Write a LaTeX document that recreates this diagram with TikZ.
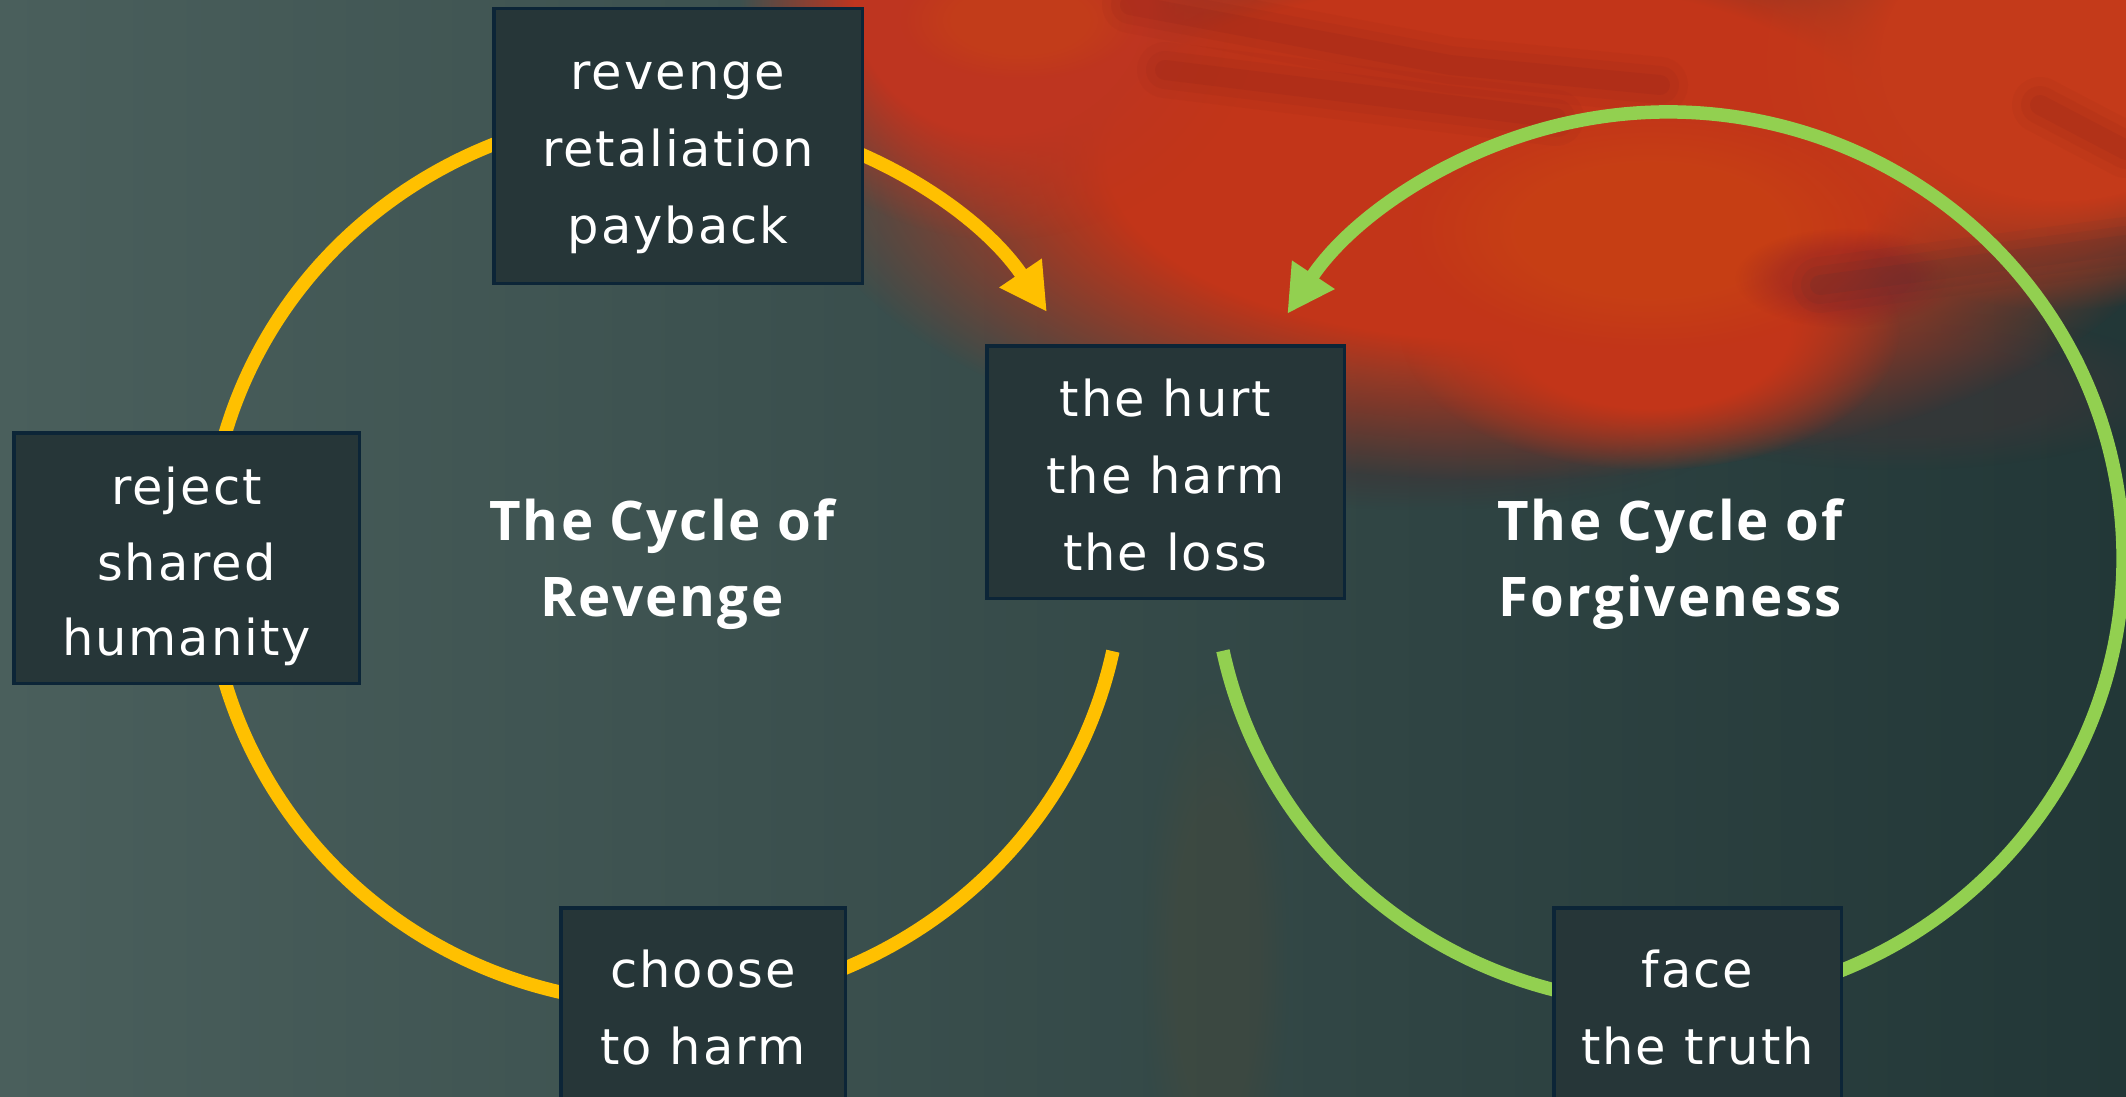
\documentclass[tikz,border=0pt]{standalone}
\usepackage{fontspec}
\setmainfont{DejaVu Sans}
\newfontfamily\boxfont{DejaVu Sans}[LetterSpace=4.0]
\newfontfamily\titlefont{Open Sans}[LetterSpace=4.0]
\usetikzlibrary{arrows.meta,fadings}
\pgfdeclareradialshading{blobshade}{\pgfpointorigin}{color(0bp)=(pgftransparent!0); color(14bp)=(pgftransparent!0); color(25bp)=(pgftransparent!100); color(50bp)=(pgftransparent!100)}
\pgfdeclarefading{blobfade}{\pgfuseshading{blobshade}}
\definecolor{bgL}{HTML}{4A5F5C}
\definecolor{bgM}{HTML}{30443F}
\definecolor{bgR}{HTML}{223737}
\definecolor{redA}{HTML}{C23519}
\definecolor{redB}{HTML}{C43A1A}
\definecolor{redC}{HTML}{BE3520}
\definecolor{orangeD}{HTML}{CC4A10}
\definecolor{darkred}{HTML}{7A1C18}
\definecolor{crimson}{HTML}{7E1A2C}
\definecolor{bandc}{HTML}{3E3537}
\definecolor{brownE}{HTML}{5A4A30}
\definecolor{gold}{HTML}{FFC000}
\definecolor{lgreen}{HTML}{92D050}
\definecolor{boxfill}{HTML}{263638}
\definecolor{boxline}{HTML}{0C2537}
\tikzset{
  blob/.style={fill=#1, path fading=blobfade},
  streak/.style={draw=#1, line cap=round, line join=round},
  cbox/.style={draw=boxline, line width=3.5pt, fill=boxfill, inner sep=0pt},
  boxtxt/.style={text=white, font=\boxfont\fontsize{49.5}{60}\selectfont, inner sep=0pt, anchor=base},
  titletxt/.style={text=white, font=\titlefont\bfseries\fontsize{54.6}{66}\selectfont, inner sep=0pt, anchor=base},
  yarc/.style={draw=gold, line width=13.5pt},
  garc/.style={draw=lgreen, line width=13.5pt},
  tipc/.style={-{Triangle[width=48pt,length=47pt]}}
}
\begin{document}
\begin{tikzpicture}[x=1pt,y=-1pt]
\useasboundingbox (0,0) rectangle (2126,1097);
\clip (0,0) rectangle (2126,1097);
% background
\shade[left color=bgL, middle color=bgM, right color=bgR] (0,0) rectangle (2126,1097);
\fill[blob=brownE, fill opacity=0.22] (1215,960) ellipse [x radius=75, y radius=280];
\fill[blob=bandc, fill opacity=0.55] (1420,440) ellipse [x radius=300, y radius=70];
\fill[blob=bandc, fill opacity=0.55] (1900,390) ellipse [x radius=280, y radius=80];
\fill[blob=redA] (1500,160) ellipse [x radius=700, y radius=320];
\fill[blob=redA] (1650,330) ellipse [x radius=250, y radius=140];
\fill[blob=redB] (2060,60) ellipse [x radius=320, y radius=250];
\fill[blob=redC] (1000,0) ellipse [x radius=260, y radius=240];
\fill[blob=orangeD, fill opacity=0.45] (1650,230) ellipse [x radius=240, y radius=120];
\fill[blob=orangeD, fill opacity=0.35] (1020,20) ellipse [x radius=120, y radius=60];
\fill[blob=crimson, fill opacity=0.35] (1845,278) ellipse [x radius=110, y radius=50];
\foreach \w/\o in {56/0.06, 38/0.08, 20/0.10} {
  \draw[streak=darkred, line width=\w pt, opacity=\o] (1130,5) -- (1450,65) -- (1660,85);
  \draw[streak=darkred, line width=\w pt, opacity=\o] (1165,70) -- (1556,118);
  \draw[streak=bandc, line width=\w pt, opacity=\o] (1820,285) -- (2126,245);
  \draw[streak=darkred, line width=\w pt, opacity=\o] (2040,105) -- (2126,150);
}
% cycles
\coordinate (yc) at (665,558);
\coordinate (gc) at (1668,558);
\coordinate (ys) at ([shift={(12.06:458 and 446)}]yc);
\coordinate (gs) at ([shift={(168:455 and 446)}]gc);
\draw[yarc, tipc] (ys) arc[start angle=12.06, end angle=326.5, x radius=458, y radius=446];
\draw[garc, tipc] (gs) arc[start angle=168, end angle=-146.8, x radius=455, y radius=446];
% boxes
\node[cbox, minimum width=368.5pt, minimum height=274.5pt] (rev) at (678,146) {};
\node[cbox, minimum width=345.5pt, minimum height=250.5pt] (rej) at (186.5,558) {};
\node[cbox, minimum width=357.5pt, minimum height=252.5pt] (hurt) at (1165.5,472) {};
\node[cbox, minimum width=284.5pt, minimum height=250.5pt] (cho) at (703,1033) {};
\node[cbox, minimum width=287.5pt, minimum height=250.5pt] (face) at (1697.5,1033) {};
% box texts
\node[boxtxt] (rev1) at (678,90) {revenge};
\node[boxtxt] (rev2) at (678,167) {retaliation};
\node[boxtxt] (rev3) at (678,243) {payback};
\node[boxtxt] (rej1) at (186.5,504) {reject};
\node[boxtxt] (rej2) at (186.5,580) {shared};
\node[boxtxt] (rej3) at (186.5,655) {humanity};
\node[boxtxt] (hurt1) at (1165.5,416) {the hurt};
\node[boxtxt] (hurt2) at (1165.5,493) {the harm};
\node[boxtxt] (hurt3) at (1165.5,570) {the loss};
\node[boxtxt] (cho1) at (703,987) {choose};
\node[boxtxt] (cho2) at (703,1064) {to harm};
\node[boxtxt] (face1) at (1697.5,987) {face};
\node[boxtxt] (face2) at (1697.5,1064) {the truth};
% titles
\node[titletxt] (rt1) at (662,540) {The Cycle of};
\node[titletxt] (rt2) at (662,616) {Revenge};
\node[titletxt] (ft1) at (1670,540) {The Cycle of};
\node[titletxt] (ft2) at (1670,616) {Forgiveness};
\end{tikzpicture}
\end{document}
